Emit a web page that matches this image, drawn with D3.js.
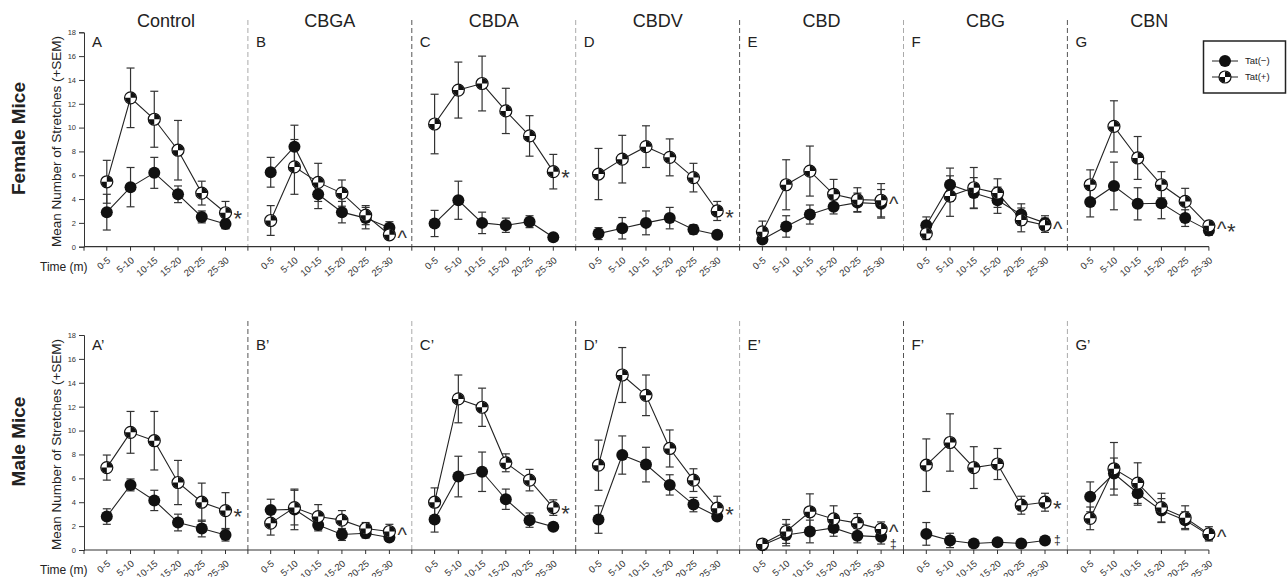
<!DOCTYPE html>
<html lang="en">
<head>
<meta charset="UTF-8">
<title>Stretches by time bin</title>
<script src="https://d3js.org/d3.v7.min.js"></script>
<style>
  body { margin: 0; background: #fff; }
  svg { display: block; font-family: "Liberation Sans", Arial, sans-serif; }
</style>
</head>
<body>
<div id="chart"></div>
<script>
// conditions and time bins
const conditions = ["Control", "CBGA", "CBDA", "CBDV", "CBD", "CBG", "CBN"];
const timeBins = ["0-5", "5-10", "10-15", "15-20", "20-25", "25-30"];
const yTicks = [0, 2, 4, 6, 8, 10, 12, 14, 16, 18];

const femaleLetters = ["A", "B", "C", "D", "E", "F", "G"];
const maleLetters = ["A’", "B’", "C’", "D’", "E’", "F’", "G’"];

// female mice, mean and SEM per condition (one row per condition)
const femaleNeg = [
  [2.9, 5.0, 6.2, 4.4, 2.5, 1.9],
  [6.25, 8.4, 4.4, 2.9, 2.4, 1.6],
  [1.95, 3.9, 2.0, 1.8, 2.1, 0.8],
  [1.1, 1.55, 2.0, 2.4, 1.45, 1.0],
  [0.6, 1.7, 2.7, 3.35, 3.7, 3.6],
  [1.8, 5.2, 4.5, 3.9, 2.7, 2.0],
  [3.75, 5.1, 3.6, 3.65, 2.4, 1.35]
];
const femaleNegSem = [
  [1.5, 1.65, 1.3, 0.7, 0.5, 0.4],
  [1.25, 1.8, 1.2, 0.9, 0.9, 0.5],
  [1.1, 1.6, 0.9, 0.6, 0.5, 0.2],
  [0.5, 0.9, 1.0, 0.9, 0.4, 0.2],
  [0.3, 0.9, 0.8, 0.6, 0.8, 1.2],
  [0.7, 1.4, 1.3, 1.1, 0.9, 0.6],
  [1.25, 2.0, 1.35, 1.3, 0.7, 0.4]
];
const femalePos = [
  [5.45, 12.5, 10.7, 8.1, 4.5, 2.85],
  [2.2, 6.7, 5.4, 4.5, 2.65, 1.0],
  [10.3, 13.15, 13.7, 11.4, 9.3, 6.3],
  [6.1, 7.35, 8.4, 7.5, 5.8, 3.0],
  [1.25, 5.2, 6.35, 4.4, 3.95, 3.9],
  [1.1, 4.25, 4.95, 4.5, 2.25, 1.8],
  [5.2, 10.1, 7.45, 5.2, 3.8, 1.75]
];
const femalePosSem = [
  [1.8, 2.5, 2.35, 2.5, 1.0, 0.95],
  [1.25, 2.3, 1.6, 1.1, 0.8, 0.3],
  [2.5, 2.35, 2.3, 1.9, 1.7, 1.45],
  [2.15, 2.0, 1.75, 1.55, 1.2, 0.8],
  [0.9, 2.1, 2.1, 1.25, 1.0, 1.4],
  [0.5, 1.7, 1.7, 1.2, 1.0, 0.6],
  [1.25, 2.15, 1.8, 1.1, 1.1, 0.4]
];

// male mice
const maleNeg = [
  [2.8, 5.45, 4.15, 2.3, 1.8, 1.25],
  [3.35, 3.4, 2.1, 1.3, 1.4, 1.05],
  [2.55, 6.15, 6.55, 4.25, 2.5, 1.95],
  [2.55, 7.95, 7.15, 5.45, 3.8, 2.8],
  [0.4, 1.25, 1.55, 1.85, 1.2, 1.1],
  [1.35, 0.8, 0.55, 0.65, 0.55, 0.8],
  [4.45, 6.4, 4.75, 3.3, 2.5, 1.25]
];
const maleNegSem = [
  [0.65, 0.5, 0.85, 0.7, 0.7, 0.5],
  [0.9, 1.7, 0.5, 0.5, 0.4, 0.3],
  [1.05, 1.7, 1.65, 0.85, 0.6, 0.3],
  [1.15, 1.6, 1.45, 0.85, 0.6, 0.3],
  [0.3, 0.9, 0.95, 0.7, 0.6, 0.6],
  [0.95, 0.6, 0.2, 0.2, 0.2, 0.2],
  [1.25, 1.3, 1.0, 1.0, 0.7, 0.4]
];
const malePos = [
  [6.9, 9.85, 9.15, 5.65, 4.0, 3.3],
  [2.25, 3.55, 2.8, 2.5, 1.8, 1.55],
  [4.0, 12.65, 11.95, 7.3, 5.85, 3.55],
  [7.1, 14.65, 12.95, 8.5, 5.85, 3.5],
  [0.5, 1.55, 3.2, 2.6, 2.25, 1.75],
  [7.1, 9.0, 6.9, 7.2, 3.75, 4.0],
  [2.65, 6.8, 5.6, 3.55, 2.7, 1.35]
];
const malePosSem = [
  [1.05, 1.75, 2.45, 1.85, 1.6, 1.5],
  [1.0, 1.45, 1.0, 0.8, 0.5, 0.6],
  [1.2, 2.0, 1.6, 0.75, 0.9, 0.65],
  [2.1, 2.3, 1.7, 1.55, 0.95, 1.0],
  [0.3, 1.0, 1.5, 1.1, 0.8, 0.6],
  [2.2, 2.4, 1.75, 1.3, 0.75, 0.75],
  [0.95, 2.2, 1.7, 1.2, 1.0, 0.6]
];

// significance marks next to the last point (Tat(+) level, Tat(-) level)
const femaleMarkPos = ["*", "^", "*", "*", "^", "^", "^*"];
const femaleMarkNeg = ["", "", "", "", "", "", ""];
const maleMarkPos = ["*", "^", "*", "*", "^", "*", "^"];
const maleMarkNeg = ["", "", "", "", "‡", "‡", ""];

const W = 1287, H = 577;
const svg = d3.select("#chart").append("svg").attr("width", W).attr("height", H);

const x0 = 84, panelW = 163.9;
const panelX = d3.scaleBand().domain(conditions).range([x0, x0 + panelW * conditions.length]);
const timeX = d3.scalePoint().domain(timeBins).range([22.8, 141.5]);
const axisEnd = panelX("CBN") + timeX("25-30");

const rows = [
  { label: "Female Mice", yRange: [246.7, 32.3], top: 20, neg: femaleNeg, negSem: femaleNegSem,
    pos: femalePos, posSem: femalePosSem, letters: femaleLetters, markPos: femaleMarkPos, markNeg: femaleMarkNeg, titles: true },
  { label: "Male Mice", yRange: [550, 335], top: 321, neg: maleNeg, negSem: maleNegSem,
    pos: malePos, posSem: malePosSem, letters: maleLetters, markPos: maleMarkPos, markNeg: maleMarkNeg, titles: false }
];

const quarterArc = d3.arc().innerRadius(0).outerRadius(5.6);
const R = 6;

function drawPosMarker(g, cx, cy) {
  const m = g.append("g").attr("transform", `translate(${cx},${cy})`);
  m.append("circle").attr("r", R).attr("fill", "#fff").attr("stroke", "#111").attr("stroke-width", 1.2);
  m.append("path").attr("d", quarterArc({ startAngle: 0, endAngle: Math.PI / 2 })).attr("fill", "#111");
  m.append("path").attr("d", quarterArc({ startAngle: Math.PI, endAngle: Math.PI * 1.5 })).attr("fill", "#111");
}

rows.forEach((row, ri) => {
  const y = d3.scaleLinear().domain([0, 18]).range(row.yRange);
  const g = svg.append("g");
  const axisY = y(0);

  // panel titles
  if (row.titles) {
    g.selectAll(".title").data(conditions).enter().append("text")
      .attr("x", d => panelX(d) + panelW / 2)
      .attr("y", 27)
      .attr("text-anchor", "middle")
      .attr("font-size", 18)
      .attr("fill", "#222")
      .text(d => d);
  }

  // dashed separators
  conditions.slice(1).forEach((c, i) => {
    const dark = (i + ri) % 2 === 1;
    g.append("line")
      .attr("x1", panelX(c)).attr("x2", panelX(c))
      .attr("y1", row.top).attr("y2", axisY)
      .attr("stroke", dark ? "#555" : "#aaa")
      .attr("stroke-width", 1)
      .attr("stroke-dasharray", "5,3");
  });

  // y axis
  const yAxis = g.append("g")
    .attr("transform", `translate(${x0},0)`)
    .call(d3.axisLeft(y).tickValues(yTicks).tickSize(5).tickPadding(3));
  yAxis.selectAll("text").attr("font-size", 7.5).attr("fill", "#333").attr("font-family", "Liberation Sans, Arial, sans-serif");
  yAxis.selectAll("line, path").attr("stroke", "#333");

  // x axis line, with ticks at panel edges
  g.append("line").attr("x1", x0).attr("x2", axisEnd).attr("y1", axisY).attr("y2", axisY)
    .attr("stroke", "#333").attr("stroke-width", 1.2);
  g.selectAll(".edge").data(conditions).enter().append("line")
    .attr("x1", d => panelX(d)).attr("x2", d => panelX(d))
    .attr("y1", axisY).attr("y2", axisY + 4)
    .attr("stroke", "#333");

  conditions.forEach((c, ci) => {
    const px = panelX(c);
    const pg = g.append("g");

    pg.selectAll(".tick").data(timeBins).enter().append("line")
      .attr("x1", t => px + timeX(t)).attr("x2", t => px + timeX(t))
      .attr("y1", axisY).attr("y2", axisY + 4)
      .attr("stroke", "#333");

    pg.selectAll(".tl").data(timeBins).enter().append("text")
      .attr("transform", t => `translate(${px + timeX(t) + 2},${axisY + 12}) rotate(-40)`)
      .attr("text-anchor", "end")
      .attr("dy", "0.35em")
      .attr("font-size", 9.5)
      .attr("fill", "#333")
      .text(t => t);

    // panel letter
    pg.append("text")
      .attr("x", px + 8)
      .attr("y", row.yRange[1] + 15)
      .attr("font-size", 15)
      .attr("fill", "#222")
      .text(row.letters[ci]);

    const series = [
      { vals: row.pos[ci], sem: row.posSem[ci] },
      { vals: row.neg[ci], sem: row.negSem[ci] }
    ];

    // error bars
    series.forEach(s => {
      s.vals.forEach((v, i) => {
        const cx = px + timeX(timeBins[i]);
        pg.append("line").attr("x1", cx).attr("x2", cx)
          .attr("y1", y(v - s.sem[i])).attr("y2", y(v + s.sem[i]))
          .attr("stroke", "#333").attr("stroke-width", 1.2);
        [v - s.sem[i], v + s.sem[i]].forEach(e => {
          pg.append("line").attr("x1", cx - 4).attr("x2", cx + 4)
            .attr("y1", y(e)).attr("y2", y(e))
            .attr("stroke", "#333").attr("stroke-width", 1.2);
        });
      });
    });

    // connecting lines
    const line = d3.line().x((d, i) => px + timeX(timeBins[i])).y(d => y(d));
    series.forEach(s => {
      pg.append("path").datum(s.vals).attr("d", line)
        .attr("fill", "none").attr("stroke", "#222").attr("stroke-width", 1.1);
    });

    // markers
    row.neg[ci].forEach((v, i) => {
      pg.append("circle").attr("cx", px + timeX(timeBins[i])).attr("cy", y(v)).attr("r", R).attr("fill", "#111");
    });
    row.pos[ci].forEach((v, i) => drawPosMarker(pg, px + timeX(timeBins[i]), y(v)));

    // significance marks
    const lastX = px + timeX("25-30") + 8;
    const posY = y(row.pos[ci][5]);
    let mx = lastX;
    row.markPos[ci].split("").forEach(ch => {
      pg.append("text").attr("x", mx).attr("y", posY)
        .attr("dy", ch === "^" ? "0.52em" : "0.62em")
        .attr("font-size", ch === "^" ? 20 : 22)
        .attr("fill", "#333")
        .text(ch);
      mx += 10;
    });
    if (row.markNeg[ci]) {
      const negY = Math.max(y(row.neg[ci][5]), posY + 15);
      pg.append("text").attr("x", lastX + 1).attr("y", negY)
        .attr("dy", "0.3em").attr("font-size", 12).attr("fill", "#222")
        .text(row.markNeg[ci]);
    }
  });

  // axis titles
  const midY = (row.yRange[0] + row.yRange[1]) / 2;
  g.append("text")
    .attr("transform", `translate(61,${midY + 2}) rotate(-90)`)
    .attr("text-anchor", "middle")
    .attr("font-size", 13.5)
    .attr("fill", "#222")
    .text("Mean Number of Stretches (+SEM)");
  g.append("text")
    .attr("transform", `translate(25,${midY - 1}) rotate(-90)`)
    .attr("text-anchor", "middle")
    .attr("font-size", 19)
    .attr("font-weight", "bold")
    .attr("fill", "#222")
    .text(row.label);
  g.append("text")
    .attr("x", 40).attr("y", axisY + 24)
    .attr("font-size", 12)
    .attr("fill", "#222")
    .text("Time (m)");
});

// legend
const lg = svg.append("g");
lg.append("rect").attr("x", 1203.5).attr("y", 41).attr("width", 82).attr("height", 52)
  .attr("fill", "#fff").attr("stroke", "#222").attr("stroke-width", 1.5);
const legendItems = ["Tat(\u2212)", "Tat(+)"];
legendItems.forEach((name, i) => {
  const ly = 61 + i * 16;
  lg.append("line").attr("x1", 1212).attr("x2", 1238).attr("y1", ly).attr("y2", ly).attr("stroke", "#222");
  if (i === 0) {
    lg.append("circle").attr("cx", 1225).attr("cy", ly).attr("r", R).attr("fill", "#111");
  } else {
    drawPosMarker(lg, 1225, ly);
  }
  lg.append("text").attr("x", 1245).attr("y", ly).attr("dy", "0.35em")
    .attr("font-size", 9.5).attr("fill", "#222").text(name);
});
</script>
</body>
</html>
